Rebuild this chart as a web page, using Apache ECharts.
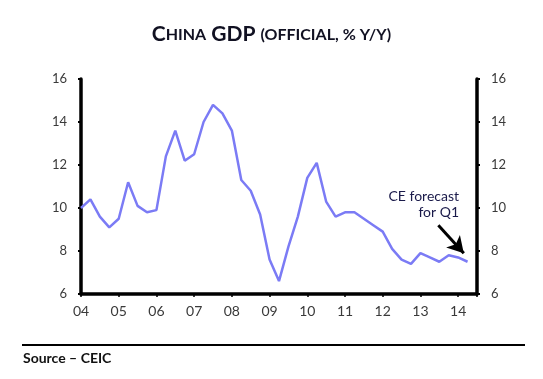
<!DOCTYPE html>
<html><head><meta charset="utf-8">
<script src="https://cdn.jsdelivr.net/npm/echarts@6/dist/echarts.min.js"></script>
<style>html,body{margin:0;padding:0;background:#fff}#c{width:543px;height:379px}</style>
</head><body><div id="c"></div>
<script>
// Quarterly, 2003Q4 .. 2014Q1 (last point = CE forecast)
const gdpGrowth = [10.0,10.4,9.6,9.1,9.5,11.2,10.1,9.8,9.9,12.4,13.6,12.2,12.5,14.0,14.8,14.4,13.6,11.3,10.8,9.7,7.6,6.6,8.2,9.6,11.4,12.1,10.3,9.6,9.8,9.8,9.5,9.2,8.9,8.1,7.6,7.4,7.9,7.7,7.5,7.8,7.7,7.5];
const yearTickLabels = ['04','05','06','07','08','09','10','11','12','13','14'];
const quartersPerYear = 4;

const chart = echarts.init(document.getElementById('c'), null, {renderer:'canvas'});
const font = 'Lato, "Open Sans", sans-serif';
const axisCommon = {
  min: 6, max: 16, interval: 2,
  axisLine:{show:true, lineStyle:{color:'#000', width:3.5}},
  axisTick:{show:true, length:3, lineStyle:{color:'#000', width:2}},
  splitLine:{show:false},
  axisLabel:{fontFamily:font, fontSize:13, color:'#3a3a3a', margin:14}
};
chart.setOption({
  animation:false,
  title:{
    text:'{a|C}{b|HINA} {a|GDP} {b|(OFFICIAL, % Y/Y)}',
    left:'center', top:19,
    textStyle:{rich:{
      a:{fontFamily:font, fontWeight:'bold', fontSize:21, color:'#111122'},
      b:{fontFamily:font, fontWeight:'bold', fontSize:16, color:'#111122'}
    }}
  },
  grid:{left:81, right:66, top:79, bottom:85, containLabel:false},
  xAxis:{
    type:'value', min:0, max:gdpGrowth.length, interval:quartersPerYear,
    axisLine:{show:true, onZero:false, lineStyle:{color:'#000', width:3.5}},
    axisTick:{show:true, length:3, lineStyle:{color:'#000', width:1.5}},
    splitLine:{show:false},
    axisLabel:{fontFamily:font, fontSize:14, color:'#3a3a3a', margin:10,
      formatter:function(v){ return (v % quartersPerYear === 0) ? (yearTickLabels[v/quartersPerYear] || '') : ''; }}
  },
  yAxis:[
    Object.assign({type:'value', position:'left'}, axisCommon),
    Object.assign({type:'value', position:'right'}, axisCommon)
  ],
  series:[{
    type:'line', yAxisIndex:0,
    data: gdpGrowth.map((v,i)=>[i,v]),
    showSymbol:false, symbol:'none',
    lineStyle:{color:'#7b7bf5', width:2.5},
    markLine:{
      silent:true, symbol:['none','arrow'], symbolSize:[14,16],
      lineStyle:{color:'#000', width:3, type:'solid'},
      label:{show:false},
      data:[[{coord:[37.9,9.2]},{coord:[40.6,7.9]}]]
    }
  }],
  graphic:[
    {type:'text', right:84, top:189, style:{text:'CE forecast', font:'14px '+font, fill:'#1a1a4a'}},
    {type:'text', right:84, top:205, style:{text:'for Q1', font:'14px '+font, fill:'#1a1a4a'}},
    {type:'line', shape:{x1:22, y1:345, x2:525, y2:345}, style:{stroke:'#000', lineWidth:2}},
    {type:'text', left:23, top:351, style:{text:'Source – CEIC', font:'bold 14px '+font, fill:'#111'}}
  ]
});
</script></body></html>
